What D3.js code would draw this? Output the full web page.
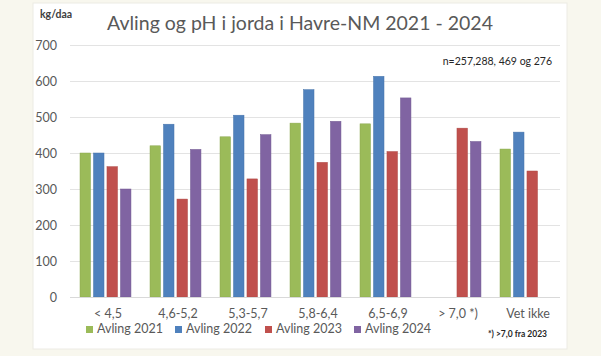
<!DOCTYPE html>
<html><head><meta charset="utf-8">
<script src="https://cdn.jsdelivr.net/npm/d3@7"></script>
<style>
html,body{margin:0;padding:0;background:#f8f7ee;}
svg{display:block;font-family:Lato, "Open Sans", sans-serif;}
</style></head>
<body>
<script>
const categories = ["< 4,5","4,6-5,2","5,3-5,7","5,8-6,4","6,5-6,9","> 7,0 *)","Vet ikke"];
const seriesNames = ["Avling 2021","Avling 2022","Avling 2023","Avling 2024"];
const avling2021 = [400,420,445,483,481,null,411];
const avling2022 = [400,480,505,576,613,null,458];
const avling2023 = [362,272,328,374,404,469,350];
const avling2024 = [300,410,451,488,553,432,null];
const yTicks = [0,100,200,300,400,500,600,700];
const colors = ["#9bbb59","#4f81bd","#c0504d","#8064a2"];

const seriesValues = [avling2021, avling2022, avling2023, avling2024];
const W=601,H=356;
const svg = d3.select("body").append("svg").attr("width",W).attr("height",H);
svg.append("rect").attr("x",33).attr("y",3).attr("width",534).attr("height",346)
  .attr("fill","#fff").attr("stroke","#ecebe4").attr("stroke-width",1);

const y = d3.scaleLinear().domain([0,700]).range([297,45]);
const x = d3.scaleBand().domain(categories).range([70,560]).padding(0);
const xi = d3.scaleBand().domain(seriesNames).range([x.bandwidth()*0.143, x.bandwidth()*0.871]).paddingInner(0.22);

// gridlines
svg.append("g").selectAll("line").data(yTicks).join("line")
  .attr("x1",70).attr("x2",560).attr("y1",d=>y(d)+0.5).attr("y2",d=>y(d)+0.5)
  .attr("stroke","#e3e3e3").attr("stroke-width",1);

// y labels
svg.append("g").selectAll("text").data(yTicks).join("text")
  .attr("x",57).attr("y",d=>y(d)+4.5).attr("text-anchor","end")
  .attr("font-size",12.5).attr("fill","#595959").text(d=>d);

// bars
const data = [];
categories.forEach((c,ci)=>seriesNames.forEach((s,si)=>{
  const v = seriesValues[si][ci];
  if(v!=null) data.push({c,s,v,color:colors[si]});
}));
svg.append("g").selectAll("rect").data(data).join("rect")
  .attr("x",d=>x(d.c)+xi(d.s)).attr("width",xi.bandwidth())
  .attr("y",d=>y(d.v)).attr("height",d=>y(0)-y(d.v))
  .attr("fill",d=>d.color).attr("stroke",d=>d3.color(d.color).darker(0.3)).attr("stroke-width",0.5);

// x axis line
svg.append("line").attr("x1",70).attr("x2",560).attr("y1",297.5).attr("y2",297.5).attr("stroke","#d9d9d9");

// category labels
svg.append("g").selectAll("text").data(categories).join("text")
  .attr("x",d=>x(d)+x.bandwidth()/2+3).attr("y",318).attr("text-anchor","middle")
  .attr("font-size",12.5).attr("fill","#595959").text(d=>d);

// title
svg.append("text").attr("x",300).attr("y",30).attr("text-anchor","middle")
  .attr("font-size",19.5).attr("fill","#595959").text("Avling og pH i jorda i Havre-NM 2021 - 2024");
svg.append("text").attr("x",40).attr("y",18).attr("font-size",10.5).attr("font-weight","bold")
  .attr("fill","#404040").text("kg/daa");
svg.append("text").attr("x",552).attr("y",65).attr("text-anchor","end").attr("font-size",10.5)
  .attr("fill","#262626").text("n=257,288, 469 og 276");

// legend
const legX = [86,175,265,354];
const lg = svg.append("g").selectAll("g").data(seriesNames).join("g")
  .attr("transform",(d,i)=>`translate(${legX[i]},333)`);
lg.append("rect").attr("x",0).attr("y",-7).attr("width",7).attr("height",7).attr("fill",(d,i)=>colors[i]);
lg.append("text").attr("x",11).attr("y",0).attr("font-size",12.5).attr("fill","#595959").text(d=>d);

svg.append("text").attr("x",547).attr("y",337).attr("text-anchor","end").attr("font-size",8.5)
  .attr("font-weight","bold").attr("fill","#262626").text("*) >7,0 fra 2023");
</script>
</body></html>
